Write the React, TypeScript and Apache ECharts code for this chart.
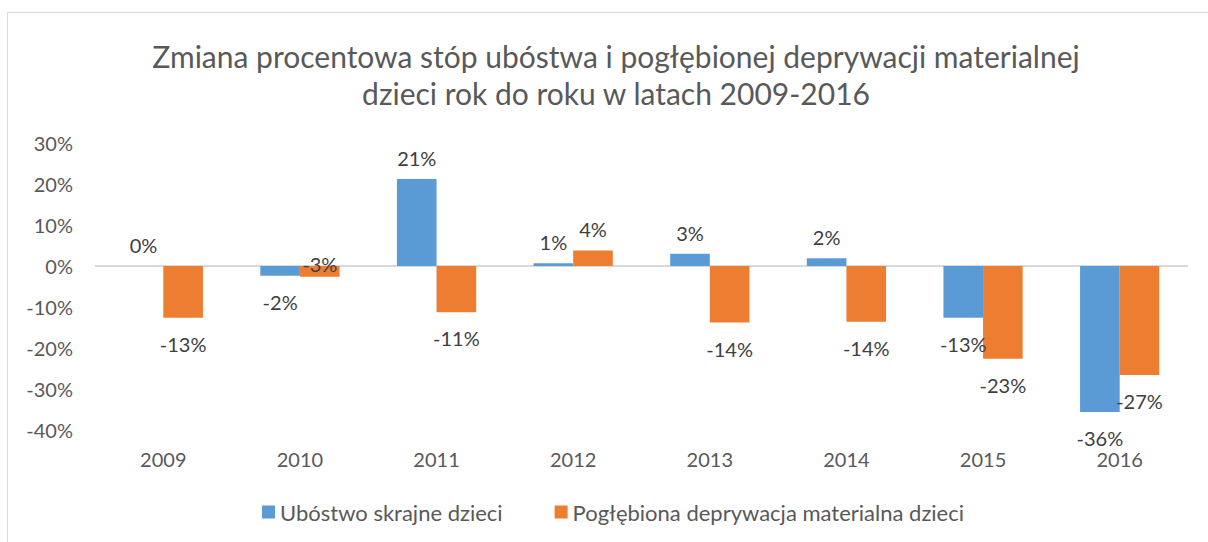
import React, { useEffect, useRef } from "react";
import * as echarts from "echarts";

const years = ["2009", "2010", "2011", "2012", "2013", "2014", "2015", "2016"];
const ubostwo = [0, -2.4, 21.2, 0.7, 3.0, 1.9, -12.6, -35.6];
const deprywacja = [-12.6, -2.6, -11.3, 3.8, -13.8, -13.6, -22.6, -26.6];
const seriesNames = ["Ubóstwo skrajne dzieci", "Pogłębiona deprywacja materialna dzieci"];
const titleText = "Zmiana procentowa stóp ubóstwa i pogłębionej deprywacji materialnej\ndzieci rok do roku w latach 2009-2016";

const FONT = "Lato, 'Noto Sans', sans-serif";

function toItems(values: number[], special: Record<number, any> = {}) {
  return values.map((v, i) => {
    const base: any = { value: v };
    if (special[i]) {
      base.label = special[i];
    } else if (v < 0) {
      base.label = { position: "bottom", distance: 16 };
    } else {
      base.label = { position: "top", distance: 11 };
    }
    return base;
  });
}

export default function App() {
  const ref = useRef<HTMLDivElement>(null);
  useEffect(() => {
    if (!ref.current) return;
    const chart = echarts.init(ref.current, undefined, { renderer: "svg" });
    const labelCommon = {
      show: true,
      color: "#404040",
      fontSize: 20,
      fontFamily: FONT,
      formatter: (p: any) => Math.round(p.value) + "%",
    };
    chart.setOption({
      animation: false,
      backgroundColor: "#ffffff",
      title: {
        text: titleText,
        left: 611,
        top: 32,
        textAlign: "center",
        textStyle: {
          color: "#595959",
          fontSize: 30,
          fontWeight: "normal",
          fontFamily: FONT,
          lineHeight: 37,
        },
      },
      graphic: [
        {
          type: "rect",
          shape: { x: 7.5, y: 12.5, width: 1400, height: 800 },
          style: { fill: "none", stroke: "#d9d9d9", lineWidth: 1 },
          silent: true,
          z: -10,
        },
      ],
      legend: {
        data: seriesNames,
        left: 257,
        top: 496,
        itemWidth: 13,
        itemHeight: 13,
        itemGap: 52,
        icon: "rect",
        textStyle: { color: "#595959", fontSize: 22, fontFamily: FONT },
      },
      grid: { left: 95, right: 20, top: 143, bottom: 112, containLabel: false },
      xAxis: {
        type: "category",
        data: years,
        axisLine: { show: false, onZero: false },
        axisTick: { show: false },
        axisLabel: { color: "#595959", fontSize: 20, fontFamily: FONT, margin: 19 },
      },
      yAxis: {
        type: "value",
        min: -40,
        max: 30,
        interval: 10,
        axisLine: { show: false },
        axisTick: { show: false },
        splitLine: { show: false },
        axisLabel: {
          color: "#595959",
          fontSize: 20,
          fontFamily: FONT,
          margin: 22,
          formatter: "{value}%",
        },
      },
      series: [
        {
          name: seriesNames[0],
          type: "bar",
          data: toItems(ubostwo),
          itemStyle: { color: "#5b9bd5" },
          barGap: "0%",
          barCategoryGap: "42%",
          label: labelCommon,
          markLine: {
            silent: true,
            symbol: "none",
            label: { show: false },
            lineStyle: { color: "#d9d9d9", width: 2, type: "solid" },
            data: [{ yAxis: 0 }],
            z: 1,
          },
          z: 2,
        },
        {
          name: seriesNames[1],
          type: "bar",
          data: toItems(deprywacja, { 1: { position: "top", distance: -8 } }),
          itemStyle: { color: "#ed7d31" },
          barGap: "0%",
          barCategoryGap: "42%",
          label: labelCommon,
          z: 2,
        },
      ],
    });
    return () => chart.dispose();
  }, []);
  return (
    <div
      ref={ref}
      style={{ position: "fixed", left: 0, top: 0, width: 1208, height: 542 }}
    />
  );
}
